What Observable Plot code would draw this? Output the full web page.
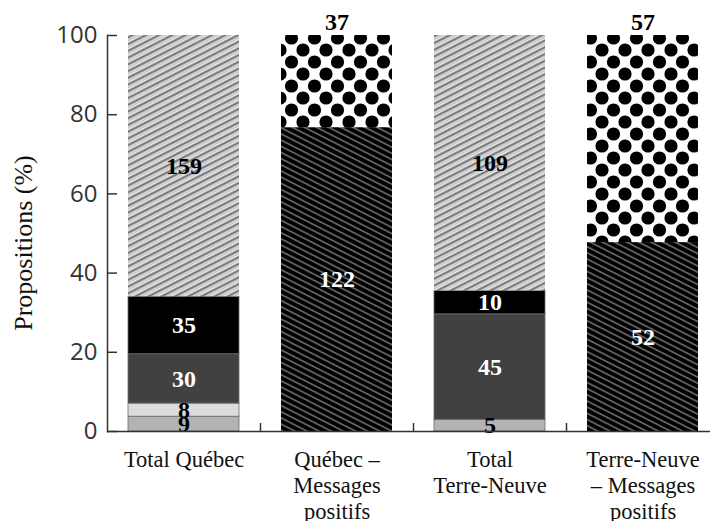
<!DOCTYPE html>
<html><head><meta charset="utf-8">
<script src="https://cdn.jsdelivr.net/npm/d3@7"></script>
<script src="https://cdn.jsdelivr.net/npm/@observablehq/plot@0.6"></script>
<style>body{margin:0;background:#fff} svg{display:block}</style>
</head><body><div id="chart"></div>
<script>
// ---- data ----
const categories = ["Total Québec", "Québec – Messages positifs", "Total Terre-Neuve", "Terre-Neuve – Messages positifs"];
const categoryLabels = ["Total Québec", "Québec –\nMessages\npositifs", "Total\nTerre-Neuve", "Terre-Neuve\n– Messages\npositifs"];
const segmentCategory = [0, 0, 0, 0, 0, 1, 1, 2, 2, 2, 2, 3, 3];
const segmentKind = ["gris", "gris clair", "gris foncé", "noir", "hachures claires", "hachures foncées", "points",
                     "gris", "gris foncé", "noir", "hachures claires", "hachures foncées", "points"];
const segmentCount = [9, 8, 30, 35, 159, 122, 37, 5, 45, 10, 109, 52, 57];
const yTicks = [0, 20, 40, 60, 80, 100];
const yLabel = "Propositions (%)";

const kinds = ["gris", "gris clair", "gris foncé", "noir", "hachures claires", "hachures foncées", "points"];
const kindFills = ["#b3b3b3", "#dcdcdc", "#414141", "#000000", "url(#hachClair)", "url(#hachFonce)", "url(#points)"];
const darkKinds = new Set(["gris foncé", "noir", "hachures foncées"]);
const solidKinds = new Set(["gris", "gris clair", "gris foncé", "noir"]);

// ---- table ----
const totals = categories.map((c, i) => d3.sum(segmentCount.filter((_, j) => segmentCategory[j] === i)));
const table = segmentCount.map((n, j) => ({
  category: categories[segmentCategory[j]],
  kind: segmentKind[j],
  count: n,
  pct: n / totals[segmentCategory[j]] * 100
}));

// ---- layout ----
const W = 710, H = 521, mL = 107, mT = 35, mB = 90, mR = 0;
const xRange = [mL, 719];
const step = (xRange[1] - xRange[0]) / categories.length;
const frameW = W - mL - mR, frameH = H - mT - mB;
const serif = "Liberation Serif, Times New Roman, serif";
const sans = "Open Sans, Noto Sans, sans-serif";

const chart = Plot.plot({
  width: W, height: H,
  marginLeft: mL, marginRight: mR, marginTop: mT, marginBottom: mB,
  style: {background: "#fff", overflow: "visible"},
  x: {domain: categories, range: xRange, paddingInner: 0.275, paddingOuter: 0.1375, align: 0.5, label: null},
  y: {domain: [0, 100], label: null},
  color: {type: "ordinal", domain: kinds, range: kindFills},
  marks: [
    Plot.barY(table, {x: "category", y: "pct", fill: "kind",
      stroke: d => solidKinds.has(d.kind) ? "#6a6a6a" : "none", strokeWidth: 0.8}),
    Plot.text(table, Plot.stackY({x: "category", y: "pct",
      text: d => d.kind === "points" ? "" : String(d.count),
      fill: d => darkKinds.has(d.kind) ? "white" : "black",
      fontFamily: serif, fontWeight: "bold", fontSize: 24})),
    Plot.text(table, Plot.stackY2({x: "category", y: "pct",
      text: d => d.kind === "points" ? String(d.count) : "",
      fill: "black", lineAnchor: "middle", dy: -13,
      fontFamily: serif, fontWeight: "bold", fontSize: 24})),
    Plot.axisY(yTicks, {tickSize: 0, tickPadding: 10, fontSize: 24, fontFamily: sans, fill: "#333", label: null}),
    Plot.ruleY(yTicks, {insetRight: frameW - 10, stroke: "#333", strokeWidth: 1.5}),
    Plot.frame({anchor: "left", stroke: "#333", strokeWidth: 1.5}),
    Plot.ruleY([0], {stroke: "#333", strokeWidth: 1.5}),
    Plot.tickX(categories.slice(1), {x: d => d, dx: -step / 2, insetTop: frameH - 8, stroke: "#333", strokeWidth: 1.5}),
    Plot.axisX({tickSize: 0, tickPadding: 16.5, fontSize: 22.5, fontFamily: serif, fill: "#111", lineHeight: 1.16,
      tickFormat: d => categoryLabels[categories.indexOf(d)], label: null}),
    Plot.text([yLabel], {text: d => d, frameAnchor: "left", textAnchor: "middle", lineAnchor: "middle",
      rotate: -90, dx: -84, dy: 9.5, fontSize: 26, fontFamily: serif, fill: "#111"})
  ]
});

// ---- patterns ----
const defs = d3.select(chart).insert("defs", ":first-child");
const blur = defs.append("filter").attr("id", "flou").attr("x", "-50%").attr("y", "-50%").attr("width", "200%").attr("height", "200%");
blur.append("feGaussianBlur").attr("stdDeviation", 0.7);

const p1 = defs.append("pattern").attr("id", "hachClair").attr("patternUnits", "userSpaceOnUse")
  .attr("width", 12).attr("height", 6).attr("patternTransform", "rotate(-27)");
p1.append("rect").attr("width", 12).attr("height", 6).attr("fill", "#f2f2f2");
p1.append("line").attr("x1", 0).attr("x2", 12).attr("y1", 1.5).attr("y2", 1.5).attr("stroke", "#6e6e6e").attr("stroke-width", 2.2);
p1.append("line").attr("x1", 0).attr("x2", 12).attr("y1", 4.3).attr("y2", 4.3).attr("stroke", "#bdbdbd").attr("stroke-width", 1.3);

const p2 = defs.append("pattern").attr("id", "hachFonce").attr("patternUnits", "userSpaceOnUse")
  .attr("width", 12).attr("height", 5.5).attr("patternTransform", "rotate(27)");
p2.append("rect").attr("width", 12).attr("height", 5.5).attr("fill", "#000");
p2.append("line").attr("x1", 0).attr("x2", 12).attr("y1", 2.75).attr("y2", 2.75).attr("stroke", "#fff").attr("stroke-width", 0.9).attr("stroke-opacity", 0.8);

const p3 = defs.append("pattern").attr("id", "points").attr("patternUnits", "userSpaceOnUse")
  .attr("width", 23).attr("height", 24).attr("x", 4).attr("y", 2);
p3.append("rect").attr("width", 23).attr("height", 24).attr("fill", "#fff");
const g3 = p3.append("g").attr("filter", "url(#flou)");
[[0, 0], [23, 0], [0, 24], [23, 24], [11.5, 12]].forEach(([cx, cy]) =>
  g3.append("circle").attr("cx", cx).attr("cy", cy).attr("r", 6.6).attr("fill", "#000"));

document.getElementById("chart").appendChild(chart);
</script>
</body></html>
